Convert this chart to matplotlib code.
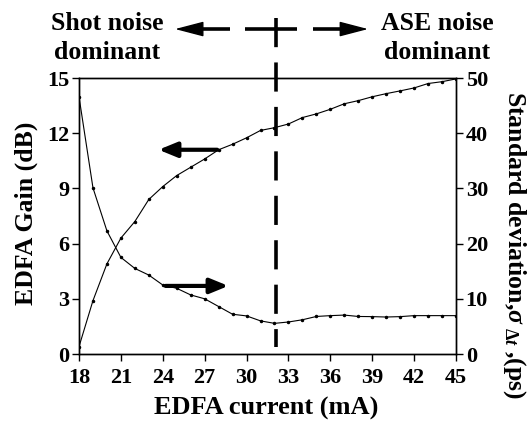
import numpy as np
import matplotlib.pyplot as plt

plt.rcParams['font.family'] = ['Liberation Serif', 'DejaVu Serif']
plt.rcParams['font.weight'] = 'bold'
plt.rcParams['mathtext.fontset'] = 'custom'
plt.rcParams['mathtext.it'] = 'Liberation Serif:italic'
plt.rcParams['mathtext.rm'] = 'Liberation Serif'
plt.rcParams['lines.scale_dashes'] = False

# EDFA current (mA)
current = list(range(18, 46))
# EDFA gain (dB), left axis
gain = [0.4, 2.9, 4.9, 6.3, 7.2, 8.4, 9.1, 9.7, 10.15, 10.6, 11.1, 11.4, 11.75, 12.15,
        12.3, 12.5, 12.85, 13.05, 13.3, 13.6, 13.77, 13.98, 14.15, 14.3, 14.46, 14.7,
        14.8, 14.95]
# standard deviation (ps), right axis
stdev = [46.6, 30.1, 22.3, 17.5, 15.5, 14.3, 12.5, 11.9, 10.7, 10.0, 8.6, 7.2, 6.9, 6.0,
         5.55, 5.8, 6.2, 6.8, 6.95, 7.05, 6.8, 6.77, 6.7, 6.77, 6.95, 6.95, 6.95, 6.95]
xticks = list(range(18, 46, 3))
gain_ticks = [0, 3, 6, 9, 12, 15]
std_ticks = [0, 10, 20, 30, 40, 50]
boundary = 32.1  # shot / ASE noise crossover

W, H = 532, 423
fig = plt.figure(figsize=(W / 100, H / 100), dpi=100)
ax = fig.add_axes([79 / W, 1 - 354 / H, 377 / W, 276 / H])
ax2 = ax.twinx()

ax.plot(current, gain, color='black', lw=0.8, marker='.', ms=3)
ax2.plot(current, stdev, color='black', lw=0.8, marker='.', ms=3)

ax.set_xlim(18, 45)
ax.set_ylim(0, 15)
ax2.set_ylim(0, 50)
ax.set_xticks(xticks)
ax.set_yticks(gain_ticks)
ax2.set_yticks(std_ticks)
for a in (ax, ax2):
    a.tick_params(direction='out', length=5, width=1, labelsize=16, pad=2)
    for s in a.spines.values():
        s.set_linewidth(1.0)
ax.tick_params(axis='x', pad=5)

ax.set_xlabel('EDFA current (mA)', fontsize=19, fontweight='bold')
ax.xaxis.set_label_coords(0.496, -0.155)
ax.set_ylabel('EDFA Gain (dB)', fontsize=18.5, fontweight='bold', va='center')
ax.yaxis.set_label_coords(-0.141, 0.51)
ax2.set_ylabel(r'Standard deviation,$\sigma_{\ \Delta t}$ ,(ps)', fontsize=18.5,
               fontweight='bold', rotation=-90, va='center')
ax2.yaxis.set_label_coords(1.155, 0.395)

# direction arrows pointing at each curve's axis
ax.annotate('', xy=(23.5, 11.1), xytext=(28.1, 11.1),
            arrowprops=dict(arrowstyle='-|>,head_length=1.1,head_width=0.45',
                            color='black', lw=3))
ax.annotate('', xy=(28.9, 3.7), xytext=(24.0, 3.7),
            arrowprops=dict(arrowstyle='-|>,head_length=1.1,head_width=0.45',
                            color='black', lw=3))

# vertical dashed boundary, extends above the axes
ax.plot([boundary, boundary], [18.26, 0.4], color='black', lw=2.6,
        dashes=(21, 11), clip_on=False, solid_capstyle='butt')

# horizontal dashed double arrow at the top
ytop = 17.66
for x0, x1 in [(26.5, 28.82), (29.89, 33.62), (34.76, 37.1)]:
    ax.plot([x0, x1], [ytop, ytop], color='black', lw=2.6, clip_on=False,
            solid_capstyle='butt')
ax.annotate('', xy=(24.88, ytop), xytext=(26.67, ytop), annotation_clip=False,
            arrowprops=dict(arrowstyle='-|>,head_length=1.8,head_width=0.47',
                            color='black', lw=1, shrinkA=0, shrinkB=0))
ax.annotate('', xy=(38.7, ytop), xytext=(36.91, ytop), annotation_clip=False,
            arrowprops=dict(arrowstyle='-|>,head_length=1.8,head_width=0.47',
                            color='black', lw=1, shrinkA=0, shrinkB=0))

fig.text(107 / W, 1 - 38 / H, 'Shot noise\ndominant', ha='center', va='center',
         fontsize=18.5, fontweight='bold', linespacing=1.35)
fig.text(437 / W, 1 - 38 / H, 'ASE noise\ndominant', ha='center', va='center',
         fontsize=18.5, fontweight='bold', linespacing=1.35)

fig.savefig('out.png', dpi=100)
